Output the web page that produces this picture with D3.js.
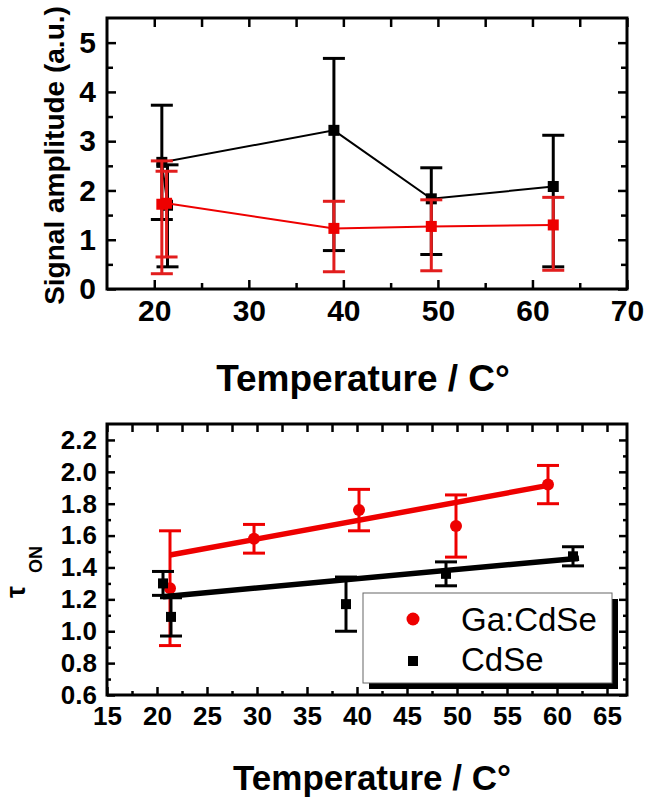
<!DOCTYPE html>
<html>
<head>
<meta charset="utf-8">
<script src="https://cdn.jsdelivr.net/npm/d3@7"></script>
<style>
  body { margin: 0; background: #fff; }
  text { font-family: "Liberation Sans", Arial, sans-serif; }
</style>
</head>
<body>
<svg id="fig" width="645" height="804"></svg>
<script>
// ---- Upper panel: signal amplitude vs temperature ----
const ampTempCdSe = [21.4, 20.8, 39.0, 49.3, 62.2];
const ampCdSe     = [1.70, 2.57, 3.22, 1.83, 2.08];
const ampCdSeLo   = [0.45, 1.41, 0.78, 0.70, 0.45];
const ampCdSeHi   = [2.52, 3.73, 4.68, 2.46, 3.12];

const ampTempGa = [20.8, 21.3, 39.0, 49.3, 62.2];
const ampGa     = [1.72, 1.74, 1.23, 1.27, 1.30];
const ampGaLo   = [0.31, 0.65, 0.35, 0.37, 0.38];
const ampGaHi   = [2.60, 2.39, 1.78, 1.81, 1.86];

const ampXTicks = [20, 30, 40, 50, 60, 70];
const ampXMinor = [25, 35, 45, 55, 65];
const ampYTicks = [0, 1, 2, 3, 4, 5];
const ampYMinor = [0.5, 1.5, 2.5, 3.5, 4.5];

// ---- Lower panel: tau_ON vs temperature ----
const tauTempGa = [21.3, 29.7, 40.2, 49.9, 59.1];
const tauGa     = [1.27, 1.58, 1.76, 1.66, 1.92];
const tauGaErr  = [0.36, 0.09, 0.13, 0.195, 0.12];

const tauTempCdSe = [20.6, 21.4, 38.9, 48.9, 61.6];
const tauCdSe     = [1.30, 1.09, 1.17, 1.36, 1.47];
const tauCdSeErr  = [0.075, 0.12, 0.17, 0.075, 0.06];

// linear fits, given by their end points
const fitTempGa   = [21.3, 59.4];
const fitGa       = [1.478, 1.918];
const fitTempCdSe = [20.6, 62.2];
const fitCdSe     = [1.217, 1.458];

const tauXTicks = [15, 20, 25, 30, 35, 40, 45, 50, 55, 60, 65];
const tauXMinor = [17.5, 22.5, 27.5, 32.5, 37.5, 42.5, 47.5, 52.5, 57.5, 62.5];
const tauYTicks = [0.6, 0.8, 1.0, 1.2, 1.4, 1.6, 1.8, 2.0, 2.2];
const tauYMinor = [0.7, 0.9, 1.1, 1.3, 1.5, 1.7, 1.9, 2.1];

const legendLabels = ["Ga:CdSe", "CdSe"];
const axisTitleX = "Temperature / C°";

const RED = "#ee0000";
const RED_BAR = "#e21d1d";
const BLACK = "#000";

const svg = d3.select("#fig");

// Boxed axes with inward ticks on all four sides
function boxAxes(g, x, y, box, o) {
  const styleTicks = sel => {
    sel.select(".domain").remove();
    sel.selectAll(".tick line").attr("stroke", BLACK).attr("stroke-width", 2.5);
  };
  // bottom
  g.append("g").attr("transform", `translate(0,${box.b})`)
    .call(d3.axisBottom(x).tickValues(o.xt).tickSizeInner(-o.major).tickSizeOuter(0)
      .tickPadding(o.padX).tickFormat(o.fmtX))
    .call(styleTicks)
    .call(s => s.selectAll("text").attr("font-size", o.fsX).attr("font-weight", "bold").attr("fill", BLACK));
  g.append("g").attr("transform", `translate(0,${box.b})`)
    .call(d3.axisBottom(x).tickValues(o.xm).tickSizeInner(-o.minor).tickSizeOuter(0).tickFormat(""))
    .call(styleTicks);
  // top
  g.append("g").attr("transform", `translate(0,${box.t})`)
    .call(d3.axisTop(x).tickValues(o.xt.concat(o.xm)).tickSizeInner(-o.major).tickSizeOuter(0).tickFormat(""))
    .call(styleTicks);
  // left
  g.append("g").attr("transform", `translate(${box.l},0)`)
    .call(d3.axisLeft(y).tickValues(o.yt).tickSizeInner(-o.major).tickSizeOuter(0)
      .tickPadding(o.padY).tickFormat(o.fmtY))
    .call(styleTicks)
    .call(s => s.selectAll("text").attr("font-size", o.fsY).attr("font-weight", "bold").attr("fill", BLACK));
  g.append("g").attr("transform", `translate(${box.l},0)`)
    .call(d3.axisLeft(y).tickValues(o.ym).tickSizeInner(-o.minor).tickSizeOuter(0).tickFormat(""))
    .call(styleTicks);
  // right
  g.append("g").attr("transform", `translate(${box.r},0)`)
    .call(d3.axisRight(y).tickValues(o.yt).tickSizeInner(-o.major).tickSizeOuter(0).tickFormat(""))
    .call(styleTicks);
  g.append("g").attr("transform", `translate(${box.r},0)`)
    .call(d3.axisRight(y).tickValues(o.ym).tickSizeInner(-o.minor).tickSizeOuter(0).tickFormat(""))
    .call(styleTicks);
  // frame
  g.append("rect").attr("x", box.l).attr("y", box.t)
    .attr("width", box.r - box.l).attr("height", box.b - box.t)
    .attr("fill", "none").attr("stroke", BLACK).attr("stroke-width", 3);
}

function errorBars(g, x, y, xs, lo, hi, color, capW, w) {
  const bars = g.append("g").attr("stroke", color).attr("stroke-width", w).attr("fill", "none");
  xs.forEach((xv, i) => {
    const cx = x(xv);
    bars.append("line").attr("x1", cx).attr("x2", cx).attr("y1", y(lo[i])).attr("y2", y(hi[i]));
    bars.append("line").attr("x1", cx - capW / 2).attr("x2", cx + capW / 2).attr("y1", y(lo[i])).attr("y2", y(lo[i]));
    bars.append("line").attr("x1", cx - capW / 2).attr("x2", cx + capW / 2).attr("y1", y(hi[i])).attr("y2", y(hi[i]));
  });
}

// ================= Upper panel =================
{
  const box = { l: 107, r: 627, t: 18, b: 289 };
  const x = d3.scaleLinear().domain([15, 70]).range([box.l, box.r]);
  const y = d3.scaleLinear().domain([0, 5.5]).range([box.b, box.t]);
  const g = svg.append("g");

  const line = d3.line().x(d => x(d[0])).y(d => y(d[1]));
  const sq = 11;

  // CdSe (black)
  errorBars(g, x, y, ampTempCdSe, ampCdSeLo, ampCdSeHi, BLACK, 22, 3);
  g.append("path").datum(ampTempCdSe.map((t, i) => [t, ampCdSe[i]]))
    .attr("d", line).attr("fill", "none").attr("stroke", BLACK).attr("stroke-width", 2);
  g.append("g").selectAll("rect").data(ampTempCdSe).join("rect")
    .attr("x", d => x(d) - sq / 2).attr("y", (d, i) => y(ampCdSe[i]) - sq / 2)
    .attr("width", sq).attr("height", sq).attr("fill", BLACK);

  // Ga:CdSe (red)
  errorBars(g, x, y, ampTempGa, ampGaLo, ampGaHi, RED_BAR, 22, 3);
  g.append("path").datum(ampTempGa.map((t, i) => [t, ampGa[i]]))
    .attr("d", line).attr("fill", "none").attr("stroke", RED).attr("stroke-width", 2);
  g.append("g").selectAll("rect").data(ampTempGa).join("rect")
    .attr("x", d => x(d) - sq / 2).attr("y", (d, i) => y(ampGa[i]) - sq / 2)
    .attr("width", sq).attr("height", sq).attr("fill", RED);

  boxAxes(g, x, y, box, {
    xt: ampXTicks, xm: ampXMinor, yt: ampYTicks, ym: ampYMinor,
    major: 9, minor: 6, padX: 11, padY: 11, fsX: 30, fsY: 30,
    fmtX: d3.format("d"), fmtY: d3.format("d")
  });

  svg.append("text")
    .attr("transform", `translate(64,${(box.t + box.b) / 2 + 2}) rotate(-90)`)
    .attr("text-anchor", "middle").attr("font-size", 28).attr("font-weight", "bold")
    .text("Signal amplitude (a.u.)");

  svg.append("text").attr("x", 363).attr("y", 391)
    .attr("text-anchor", "middle").attr("font-size", 37).attr("font-weight", "bold")
    .text(axisTitleX);
}

// ================= Lower panel =================
{
  const box = { l: 107, r: 627, t: 424, b: 695 };
  const x = d3.scaleLinear().domain([15, 67]).range([box.l, box.r]);
  const y = d3.scaleLinear().domain([0.6, 2.3]).range([box.b, box.t]);
  const g = svg.append("g");

  const line = d3.line().x(d => x(d[0])).y(d => y(d[1]));

  // Ga:CdSe (red circles)
  errorBars(g, x, y, tauTempGa,
    tauGa.map((v, i) => v - tauGaErr[i]), tauGa.map((v, i) => v + tauGaErr[i]), RED, 22, 3);
  g.append("g").selectAll("circle").data(tauTempGa).join("circle")
    .attr("cx", d => x(d)).attr("cy", (d, i) => y(tauGa[i])).attr("r", 6).attr("fill", RED);
  g.append("path").datum(fitTempGa.map((t, i) => [t, fitGa[i]]))
    .attr("d", line).attr("fill", "none").attr("stroke", RED).attr("stroke-width", 5.5);

  // CdSe (black squares)
  const sq = 10;
  errorBars(g, x, y, tauTempCdSe,
    tauCdSe.map((v, i) => v - tauCdSeErr[i]), tauCdSe.map((v, i) => v + tauCdSeErr[i]), BLACK, 22, 3);
  g.append("g").selectAll("rect").data(tauTempCdSe).join("rect")
    .attr("x", d => x(d) - sq / 2).attr("y", (d, i) => y(tauCdSe[i]) - sq / 2)
    .attr("width", sq).attr("height", sq).attr("fill", BLACK);
  g.append("path").datum(fitTempCdSe.map((t, i) => [t, fitCdSe[i]]))
    .attr("d", line).attr("fill", "none").attr("stroke", BLACK).attr("stroke-width", 5.5);

  // legend with drop shadow
  const lg = g.append("g");
  lg.append("rect").attr("x", 369).attr("y", 599).attr("width", 249).attr("height", 90).attr("fill", BLACK);
  lg.append("rect").attr("x", 363).attr("y", 593).attr("width", 249).attr("height", 90)
    .attr("fill", "#fff").attr("stroke", "#666").attr("stroke-width", 1);
  lg.append("circle").attr("cx", 413).attr("cy", 619).attr("r", 6.5).attr("fill", RED);
  lg.append("rect").attr("x", 408).attr("y", 656).attr("width", 10).attr("height", 10).attr("fill", BLACK);
  lg.selectAll("text").data(legendLabels).join("text")
    .attr("x", 461).attr("y", (d, i) => 631 + i * 40)
    .attr("font-size", 33).attr("fill", BLACK).text(d => d);

  boxAxes(g, x, y, box, {
    xt: tauXTicks, xm: tauXMinor, yt: tauYTicks, ym: tauYMinor,
    major: 8, minor: 4, padX: 12, padY: 10, fsX: 26, fsY: 26,
    fmtX: d3.format("d"), fmtY: d3.format(".1f")
  });

  svg.append("text").attr("transform", "translate(25,598) rotate(-90)")
    .attr("font-size", 27).attr("font-weight", "bold").text("τ");
  svg.append("text").attr("transform", "translate(42,573) rotate(-90)")
    .attr("font-size", 18).attr("font-weight", "bold").text("ON");

  svg.append("text").attr("x", 372).attr("y", 790)
    .attr("text-anchor", "middle").attr("font-size", 35).attr("font-weight", "bold")
    .text(axisTitleX);
}
</script>
</body>
</html>
